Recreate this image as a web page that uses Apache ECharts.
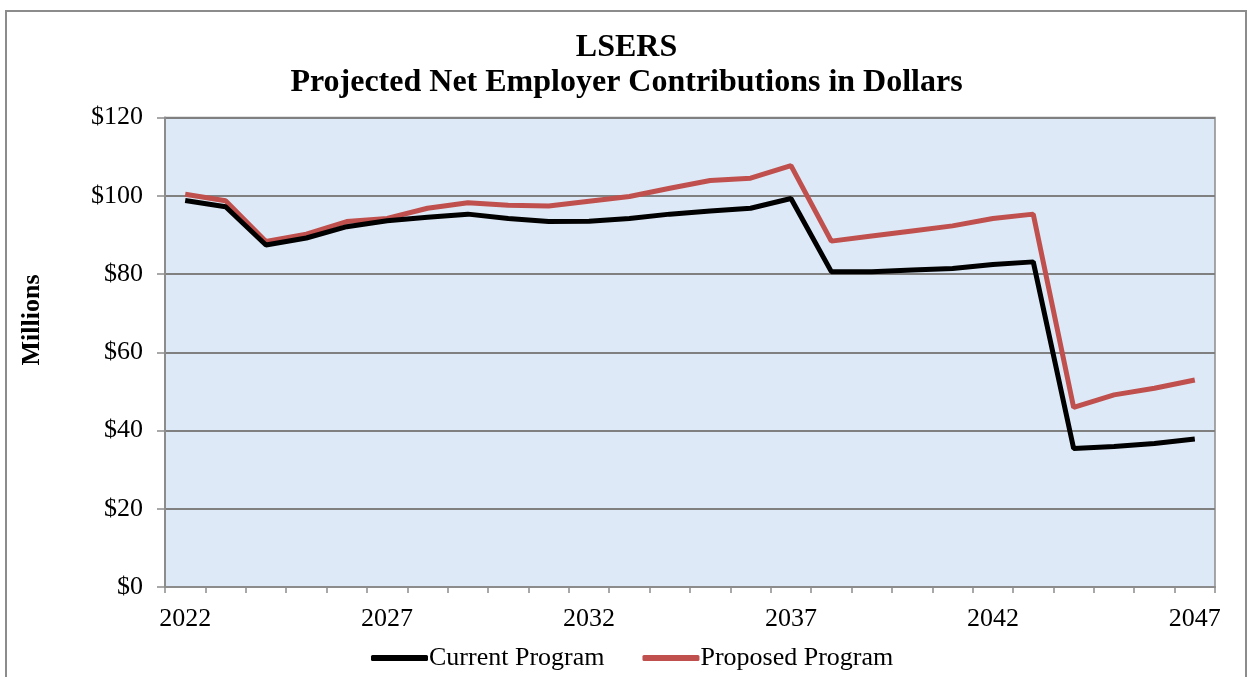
<!DOCTYPE html>
<html>
<head>
<meta charset="utf-8">
<script src="https://cdn.jsdelivr.net/npm/echarts@6/dist/echarts.min.js"></script>
<style>
html,body{margin:0;padding:0;background:#fff;}
#chart{width:1253px;height:677px;}
</style>
</head>
<body>
<div id="chart"></div>
<script>
const years = ['2022','2023','2024','2025','2026','2027','2028','2029','2030','2031','2032','2033','2034','2035','2036','2037','2038','2039','2040','2041','2042','2043','2044','2045','2046','2047'];
const currentProgram = [98.8, 97.2, 87.4, 89.2, 92.1, 93.6, 94.5, 95.3, 94.2, 93.4, 93.5, 94.2, 95.3, 96.1, 96.8, 99.3, 80.6, 80.6, 81.0, 81.4, 82.4, 83.1, 35.4, 35.9, 36.7, 37.8];
const proposedProgram = [100.4, 98.7, 88.3, 90.2, 93.4, 94.2, 96.8, 98.2, 97.6, 97.4, 98.6, 99.8, 101.9, 103.9, 104.5, 107.7, 88.4, 89.7, 91.0, 92.3, 94.2, 95.3, 45.9, 49.1, 50.8, 52.9];
const yTicks = [0, 20, 40, 60, 80, 100, 120];

const chart = echarts.init(document.getElementById('chart'));
const serif = '"Liberation Serif", "DejaVu Serif", serif';
chart.setOption({
  backgroundColor: '#ffffff',
  animation: false,
  graphic: [{
    type: 'rect',
    shape: {x: 6, y: 11, width: 1240, height: 680},
    style: {fill: 'none', stroke: '#8c8c8c', lineWidth: 2},
    silent: true, z: -1
  }, {
    type: 'text',
    x: 32, y: 320,
    rotation: Math.PI / 2,
    style: {text: 'Millions', fontFamily: serif, fontWeight: 'bold', fontSize: 26, fill: '#000', align: 'center', verticalAlign: 'middle'},
    silent: true
  }],
  title: {
    text: 'LSERS\nProjected Net Employer Contributions in Dollars',
    left: 'center',
    top: 25,
    textStyle: {fontFamily: serif, fontWeight: 'bold', fontSize: 32, lineHeight: 35, color: '#000'}
  },
  legend: {
    top: 640,
    left: 366,
    itemGap: 38,
    itemWidth: 57,
    itemHeight: 6,
    icon: 'roundRect',
    textStyle: {fontFamily: serif, fontSize: 26, color: '#000', padding: [0, 0, 0, -4]},
    data: ['Current Program', 'Proposed Program']
  },
  grid: {left: 165, right: 38, top: 117.5, bottom: 90, show: true, backgroundColor: '#dde9f6', borderColor: '#8c8c8c', borderWidth: 1.5},
  xAxis: {
    type: 'category',
    data: years,
    boundaryGap: true,
    axisLine: {lineStyle: {color: '#8c8c8c', width: 2}},
    axisTick: {show: true, interval: 0, length: 6, lineStyle: {color: '#8c8c8c', width: 1.5}},
    axisLabel: {interval: 4, fontFamily: serif, fontSize: 26, color: '#000', margin: 19},
    splitLine: {show: false}
  },
  yAxis: {
    type: 'value',
    min: 0, max: 120, interval: 20,
    axisLine: {show: true, lineStyle: {color: '#8c8c8c', width: 2}},
    axisTick: {show: true, length: 8, lineStyle: {color: '#8c8c8c', width: 1.5}},
    axisLabel: {fontFamily: serif, fontSize: 26, color: '#000', margin: 22, formatter: v => yTicks.includes(v) ? '$' + v : ''},
    splitLine: {show: true, lineStyle: {color: '#808080', width: 2}}
  },
  series: [
    {name: 'Current Program', type: 'line', data: currentProgram, symbol: 'none', lineStyle: {color: '#000000', width: 5}, itemStyle: {color: '#000000'}, z: 3},
    {name: 'Proposed Program', type: 'line', data: proposedProgram, symbol: 'none', lineStyle: {color: '#c0504d', width: 5}, itemStyle: {color: '#c0504d'}, z: 2}
  ]
});
</script>
</body>
</html>
